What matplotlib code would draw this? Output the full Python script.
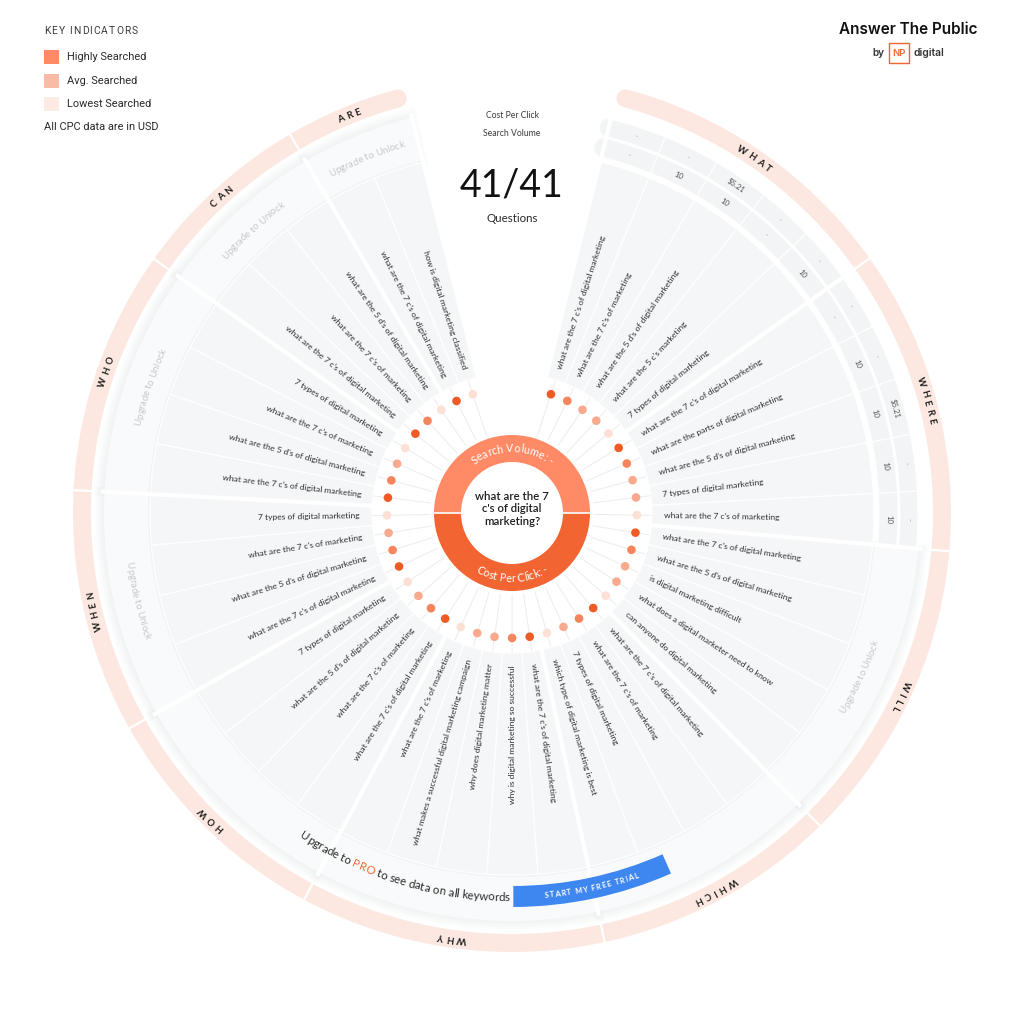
import numpy as np
import matplotlib.pyplot as plt
from matplotlib.patches import Wedge, Circle, Rectangle
from matplotlib.font_manager import FontProperties, findfont
from matplotlib.ft2font import FT2Font

# ---------------- data ----------------
categories = ['WHAT', 'WHERE', 'WILL', 'WHICH', 'WHY', 'HOW', 'WHEN', 'WHO', 'CAN', 'ARE']
cat_counts = [5, 5, 5, 4, 5, 4, 4, 4, 3, 2]
unlocked = ['WHAT', 'WHERE']
pro_banner = ['WHICH', 'WHY', 'HOW']

questions = [
    "what are the 7 c's of digital marketing",
    "what are the 7 c's of marketing",
    "what are the 5 d's of digital marketing",
    "what are the 5 c's marketing",
    "7 types of digital marketing",
    "what are the 7 c's of digital marketing",
    "what are the parts of digital marketing",
    "what are the 5 d's of digital marketing",
    "7 types of digital marketing",
    "what are the 7 c's of marketing",
    "what are the 7 c's of digital marketing",
    "what are the 5 d's of digital marketing",
    "is digital marketing difficult",
    "what does a digital marketer need to know",
    "can anyone do digital marketing",
    "what are the 7 c's of digital marketing",
    "what are the 7 c's of marketing",
    "7 types of digital marketing",
    "which type of digital marketing is best",
    "what are the 7 c's of digital marketing",
    "why is digital marketing so successful",
    "why does digital marketing matter",
    "what makes a successful digital marketing campaign",
    "what are the 7 c's of marketing",
    "what are the 7 c's of digital marketing",
    "what are the 7 c's of marketing",
    "what are the 5 d's of digital marketing",
    "7 types of digital marketing",
    "what are the 7 c's of digital marketing",
    "what are the 5 d's of digital marketing",
    "what are the 7 c's of marketing",
    "7 types of digital marketing",
    "what are the 7 c's of digital marketing",
    "what are the 5 d's of digital marketing",
    "what are the 7 c's of marketing",
    "7 types of digital marketing",
    "what are the 7 c's of digital marketing",
    "what are the 7 c's of marketing",
    "what are the 5 d's of digital marketing",
    "what are the 7 c's of digital marketing",
    "how is digital marketing classified",
]

# 0 = highly searched ... 3 = lowest searched
dot_level = [0, 1, 2, 2, 3,
             0, 1, 2, 2, 3,
             0, 1, 2, 2, 3,
             0, 1, 2, 3,
             0, 1, 2, 2, 3,
             0, 1, 2, 3,
             0, 1, 2, 3,
             0, 1, 2, 3,
             0, 1, 3,
             0, 3]

# values for the unlocked questions (WHAT + WHERE)
search_volume = ['-', '10', '10', '-', '10', '-', '10', '10', '10', '10']
cost_per_click = ['-', '-', '$5.21', '-', '-', '-', '-', '$5.21', '-', '-']

legend_labels = ['Highly Searched', 'Avg. Searched', 'Lowest Searched']

# ---------------- geometry / style ----------------
CX, CY = 512, 1024 - 513
START = 75.9
STEP = 331.7 / len(questions)
DOT_COLORS = ['#F05A24', '#F6845C', '#F9A98E', '#FDE0D5']
FONT = 'Lato'


def P(r, a):
    t = np.radians(a)
    return CX + r * np.cos(t), CY + r * np.sin(t)


def Y(y):
    return 1024 - y


def advances(s, size, weight, family, spacing):
    prop = FontProperties(family=family, weight=weight, size=size)
    font = FT2Font(findfont(prop))
    font.set_size(size, 100)
    return [font.load_char(ord(c)).linearHoriAdvance / 65536 + spacing for c in s]


def arc_text(s, r, a_mid, size, clockwise=True, spacing=0.0, colors=None,
             weight='normal', family=FONT, color='#222222', z=9):
    advs = advances(s, size, weight, family, spacing)
    total = sum(advs) - spacing
    cap = 0.72 * size * 100 / 72
    rb = r - cap / 2 if clockwise else r + cap / 2
    pos = -total / 2
    for k, (c, adv) in enumerate(zip(s, advs)):
        mid = pos + (adv - spacing) / 2
        da = np.degrees(mid / rb)
        a = a_mid - da if clockwise else a_mid + da
        rot = a - 90 if clockwise else a + 90
        x, y = P(rb, a)
        col = colors[k] if colors is not None else color
        ax.text(x, y, c, rotation=rot, rotation_mode='anchor', ha='center',
                va='baseline', fontsize=size, color=col, fontweight=weight,
                family=family, zorder=z)
        pos += adv


def spaced_text(s, x, y, size, spacing, family, color, weight='normal'):
    advs = advances(s, size, weight, family, spacing)
    for c, adv in zip(s, advs):
        ax.text(x, y, c, ha='left', va='center', fontsize=size, color=color,
                family=family, fontweight=weight)
        x += adv


fig = plt.figure(figsize=(10.24, 10.24), dpi=100, facecolor='white')
ax = fig.add_axes([0, 0, 1, 1])
ax.set_xlim(0, 1024)
ax.set_ylim(0, 1024)
ax.set_aspect('equal')
ax.axis('off')

# category angle ranges
bounds = [START]
for n in cat_counts:
    bounds.append(bounds[-1] - n * STEP)
cat_rng = {c: (bounds[i + 1], bounds[i]) for i, c in enumerate(categories)}
cell_cat = []
for c, n in zip(categories, cat_counts):
    cell_cat += [c] * n

# ---- outer salmon ring ----
ang = np.linspace(START - 1.2, bounds[-1] + 1.2, 600)
xs, ys = P(430, ang)
ax.plot(xs, ys, color='#FDE8E1', lw=18 * 0.72, solid_capstyle='round', zorder=1)
for b in bounds[1:-1]:
    x1, y1 = P(419, b)
    x2, y2 = P(441, b)
    ax.plot([x1, x2], [y1, y2], color='white', lw=1.6, zorder=2)
for c in categories:
    a1, a2 = cat_rng[c]
    arc_text(c, 430, (a1 + a2) / 2, 6.8, clockwise=True, spacing=3.2,
             weight='bold', color='#1E1E1E')

# ---- locked outer bands (soft shadow + frosted band) ----
for c in categories:
    if c in unlocked:
        continue
    a1, a2 = cat_rng[c]
    for k in range(6, 0, -1):
        ax.add_patch(Wedge((CX, CY), 408 + k * 1.6, a1 + 0.2 - k * 0.15, a2 - 0.2 + k * 0.15,
                           width=44 + k * 3.2, fc='#DADDE2', ec='none', alpha=0.06, zorder=2))
    ax.add_patch(Wedge((CX, CY), 408, a1 + 0.2, a2 - 0.2, width=44,
                       fc='#F9FAFB', ec='none', zorder=3))

# ---- unlocked value bands ----
for r_out, wd in [(386, 19), (406, 18)]:
    x0, y0 = P(r_out - wd / 2, START)
    ax.add_patch(Circle((x0, y0), wd / 2, fc='#F3F4F6', ec='none', zorder=2))
for i in range(len(questions)):
    if cell_cat[i] not in unlocked:
        continue
    a2 = START - STEP * i
    a1 = a2 - STEP
    ax.add_patch(Wedge((CX, CY), 386, a1, a2, width=19, fc='#F3F4F6', ec='white', lw=0.8, zorder=3))
    ax.add_patch(Wedge((CX, CY), 406, a1, a2, width=18, fc='#F3F4F6', ec='white', lw=0.8, zorder=3))

for i, (sv, cpc) in enumerate(zip(search_volume, cost_per_click)):
    a = START - STEP * (i + 0.5)
    for r, val in [(376.5, sv), (397, cpc)]:
        x, y = P(r, a)
        ax.text(x, y, val, rotation=a - 90, rotation_mode='anchor', ha='center',
                va='center', fontsize=5.6, color='#555555' if val != '-' else '#9A9A9A',
                family=FONT, zorder=5)

# ---- question cells ----
for i, q in enumerate(questions):
    a2 = START - STEP * i
    a1 = a2 - STEP
    ax.add_patch(Wedge((CX, CY), 362, a1, a2, width=222, fc='#F5F6F8', ec='white',
                       lw=0.9, zorder=3))
    a = (a1 + a2) / 2
    right = np.cos(np.radians(a)) > 0.001
    x, y = P(152, a)
    ax.text(x, y, q, rotation=a if right else a + 180, rotation_mode='anchor',
            ha='left' if right else 'right', va='center', fontsize=6.1,
            color='#2E2E2E', family=FONT, zorder=6)

# thick category separators
for b in bounds:
    x1, y1 = P(128, b)
    x2, y2 = P(412, b)
    ax.plot([x1, x2], [y1, y2], color='white', lw=3.0, zorder=4, solid_capstyle='butt')

# ---- upgrade texts ----
for c in categories:
    if c in unlocked or c in pro_banner:
        continue
    a1, a2 = cat_rng[c]
    a = (a1 + a2) / 2
    upper = np.sin(np.radians(a)) > 0
    arc_text('Upgrade to Unlock', 385, a, 6.9, clockwise=upper, color='#C4C7CC')

msg = 'Upgrade to PRO to see data on all keywords'
cols = ['#F26532' if 11 <= k < 14 else '#2A2A2A' for k in range(len(msg))]
arc_text(msg, 384, 253.2, 8.3, clockwise=False, colors=cols)
ax.add_patch(Wedge((CX, CY), 394, 270.2, 293.8, width=21, fc='#3E86F0', ec='none', zorder=5))
arc_text('START MY FREE TRIAL', 383.5, 282.0, 5.4, clockwise=False, spacing=1.0,
         weight='bold', color='white')

# ---- spokes and dots ----
for i in range(len(questions)):
    a = START - STEP * (i + 0.5)
    x1, y1 = P(82, a)
    x2, y2 = P(140, a)
    ax.plot([x1, x2], [y1, y2], color='#ECECEE', lw=0.7, zorder=2)
    ax.add_patch(Circle(P(125, a), 4.3, fc=DOT_COLORS[dot_level[i]], ec='none', zorder=6))

# ---- central donut ----
ax.add_patch(Wedge((CX, CY), 78, 0, 180, width=27, fc='#FF8A65', ec='none', zorder=7))
ax.add_patch(Wedge((CX, CY), 78, 180, 360, width=27, fc='#F26532', ec='none', zorder=7))
ax.plot([CX - 80, CX + 80], [CY, CY], color='white', lw=1.2, zorder=8)
arc_text('Search Volume: -', 65, 90, 7.8, clockwise=True, color='white')
arc_text('Cost Per Click: -', 65, 270, 7.8, clockwise=False, color='white')
ax.text(CX, CY + 4, "what are the 7\nc's of digital\nmarketing?", ha='center', va='center',
        fontsize=8.2, color='#1E1E1E', family=FONT, fontweight='semibold',
        linespacing=1.2, zorder=9)

# ---- header in the top gap ----
ax.text(512, Y(115), 'Cost Per Click', ha='center', va='center', fontsize=6.2,
        color='#3A3A3A', family=FONT)
ax.text(512, Y(134), 'Search Volume', ha='center', va='center', fontsize=6.2,
        color='#3A3A3A', family=FONT)
ax.text(512, Y(186), '41/41', ha='center', va='center', fontsize=27,
        color='#111111', family=FONT, fontweight='normal')
ax.text(512, Y(219), 'Questions', ha='center', va='center', fontsize=8.3,
        color='#2A2A2A', family=FONT)

# ---- legend (top left) ----
spaced_text('KEY INDICATORS', 44, Y(31), 7.4, 1.1, 'Roboto', '#3A3A3A')
leg_colors = ['#FF8A65', '#F9BBA6', '#FDEAE3']
for k, (lab, col) in enumerate(zip(legend_labels, leg_colors)):
    yc = 57 + 23.5 * k
    ax.add_patch(Rectangle((44, Y(yc) - 7), 14.5, 14, fc=col, ec='none'))
    ax.text(67, Y(yc), lab, ha='left', va='center', fontsize=7.9,
            color='#2A2A2A', family='Roboto')
ax.text(44, Y(127), 'All CPC data are in USD', ha='left', va='center', fontsize=7.9,
        color='#2A2A2A', family='Roboto')

# ---- logo (top right) ----
ax.text(908, Y(29), 'Answer The Public', ha='center', va='center', fontsize=11,
        color='#111111', family='Inter', fontweight='semibold')
ax.text(872, Y(53), 'by', ha='left', va='center', fontsize=7.2, color='#333333',
        family='Inter', fontweight='semibold')
ax.add_patch(Rectangle((889, Y(63)), 20, 20, fc='white', ec='#F26532', lw=1.0))
ax.text(899, Y(53), 'NP', ha='center', va='center', fontsize=6.8, color='#F26532',
        family='Inter', fontweight='semibold')
ax.text(913, Y(53), 'digital', ha='left', va='center', fontsize=7.4, color='#333333',
        family='Inter', fontweight='semibold')

plt.savefig('out.png', dpi=100, facecolor='white')
plt.close()
